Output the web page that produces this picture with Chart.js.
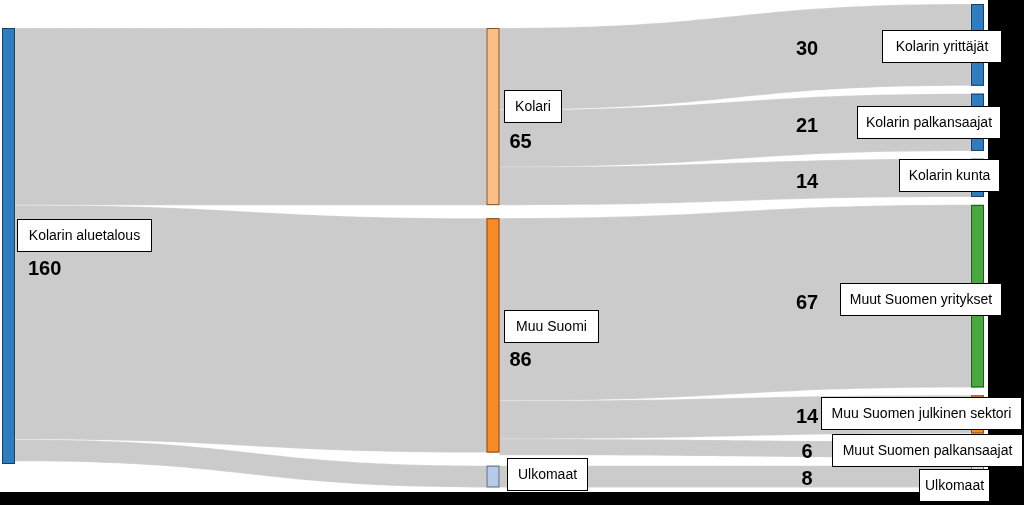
<!DOCTYPE html>
<html>
<head>
<meta charset="utf-8">
<script src="https://cdn.jsdelivr.net/npm/chart.js@4/dist/chart.umd.min.js"></script>
<style>
  html, body { margin: 0; padding: 0; background: #000; }
  #wrap { width: 1024px; height: 505px; }
</style>
</head>
<body>
<div id="wrap"><canvas id="sankey" width="1024" height="505"></canvas></div>
<script>
// nodes
var nodeNames = ['Kolarin aluetalous', 'Kolari', 'Muu Suomi', 'Ulkomaat',
    'Kolarin yrittäjät', 'Kolarin palkansaajat', 'Kolarin kunta',
    'Muut Suomen yritykset', 'Muu Suomen julkinen sektori', 'Muut Suomen palkansaajat', 'Ulkomaat'];
var nodeColumns = [0, 1, 1, 1, 2, 2, 2, 2, 2, 2, 2];
var nodeValues = [160, 65, 86, 8, 30, 21, 14, 67, 14, 6, 8];
var showValue = [true, true, true, false, true, true, true, true, true, true, true];

// links
var linkSources = [0, 0, 0, 1, 1, 1, 2, 2, 2, 3];
var linkTargets = [1, 2, 3, 4, 5, 6, 7, 8, 9, 10];
var linkValues = [65, 86, 8, 30, 21, 14, 67, 14, 6, 8];

// layout / styles (kept apart from the data)
var columnTop = [0, 0, -8.8];
var columnGap = [0, 4.8, 2.9];
var nodeWidth = 13;
var linkColor = '#cbcbcb';
var nodeFill = ['#2f7dc1', '#fbbf86', '#f98b26', '#b5cbe8', '#2f7dc1', '#2f7dc1', '#2f7dc1',
    '#47a93b', '#f98b26', '#d6d6d6', '#d6d6d6'];
var nodeStroke = ['#1c3f66', '#7a5530', '#7a4a1c', '#5d6b80', '#1c3f66', '#1c3f66', '#1c3f66',
    '#24561e', '#7a4a1c', '#777777', '#777777'];
// box: [left, right] relative to node edge, dy = box centre vs node centre, ndy = number centre vs node centre
var labelLayout = [
    { side: 'r', bl: 2, br: 137, dy: -10.5, nx: 13, ndy: 22 },
    { side: 'r', bl: 4, br: 62, dy: -10, nx: 10, ndy: 24.5 },
    { side: 'r', bl: 4, br: 99, dy: -8.7, nx: 10, ndy: 24.3 },
    { side: 'r', bl: 7, br: 88, dy: -1.7 },
    { side: 'l', bl: -89, br: 31, dy: 2, nx: -164, ndy: 3.5 },
    { side: 'l', bl: -114, br: 30, dy: 0, nx: -164, ndy: 3 },
    { side: 'l', bl: -72, br: 29, dy: -2, nx: -164, ndy: 4 },
    { side: 'l', bl: -131, br: 31, dy: 3, nx: -164, ndy: 6 },
    { side: 'l', bl: -150, br: 51, dy: -1, nx: -164, ndy: 2 },
    { side: 'l', bl: -139, br: 52, dy: 1, nx: -164, ndy: 1.5 },
    { side: 'l', bl: -52, br: 19, dy: 9, nx: -164, ndy: 1.5 }
];
var labelFont = '14px "Liberation Sans", Arial, sans-serif';
var valueFont = 'bold 20px "Liberation Sans", Arial, sans-serif';

// stack the nodes of each column
var nodeTop = [];
var colCursor = columnTop.slice();
nodeNames.forEach(function(name, i) {
    var c = nodeColumns[i];
    nodeTop[i] = colCursor[c];
    colCursor[c] += nodeValues[i] + columnGap[c];
});

var sankeyPlugin = {
    id: 'sankeyDraw',
    beforeDraw: function(chart) {
        var ctx = chart.ctx;
        ctx.save();
        ctx.fillStyle = '#000';
        ctx.fillRect(0, 0, chart.width, chart.height);
        ctx.fillStyle = '#fff';
        ctx.fillRect(0, 0, 988, 492);
        ctx.restore();
    },
    afterDatasetsDraw: function(chart) {
        var ctx = chart.ctx;
        var xs = chart.scales.x, ys = chart.scales.y;
        var px = function(c) { return xs.getPixelForValue(c); };
        var py = function(v) { return ys.getPixelForValue(v); };
        ctx.save();

        // links
        var outOff = nodeTop.slice(), inOff = nodeTop.slice();
        linkValues.forEach(function(v, k) {
            var s = linkSources[k], t = linkTargets[k];
            var x0 = px(nodeColumns[s]) + nodeWidth, x1 = px(nodeColumns[t]);
            var s0 = py(outOff[s]), s1 = py(outOff[s] + v);
            var t0 = py(inOff[t]), t1 = py(inOff[t] + v);
            outOff[s] += v; inOff[t] += v;
            var xm = (x0 + x1) / 2;
            ctx.beginPath();
            ctx.moveTo(x0, s0);
            ctx.bezierCurveTo(xm, s0, xm, t0, x1, t0);
            ctx.lineTo(x1, t1);
            ctx.bezierCurveTo(xm, t1, xm, s1, x0, s1);
            ctx.closePath();
            ctx.fillStyle = linkColor;
            ctx.fill();
            ctx.strokeStyle = 'rgba(255,255,255,0.35)';
            ctx.lineWidth = 0.6;
            ctx.stroke();
        });

        // nodes
        nodeNames.forEach(function(name, i) {
            var x = px(nodeColumns[i]);
            var y0 = py(nodeTop[i]), y1 = py(nodeTop[i] + nodeValues[i]);
            ctx.fillStyle = nodeFill[i];
            ctx.fillRect(x, y0, nodeWidth, y1 - y0);
            ctx.strokeStyle = nodeStroke[i];
            ctx.lineWidth = 1;
            ctx.strokeRect(x + 0.5, y0 + 0.5, nodeWidth - 1, y1 - y0 - 1);
        });

        // labels
        ctx.textBaseline = 'middle';
        nodeNames.forEach(function(name, i) {
            var L = labelLayout[i];
            var x = px(nodeColumns[i]);
            var edge = L.side === 'r' ? x + nodeWidth : x;
            var cy = (py(nodeTop[i]) + py(nodeTop[i] + nodeValues[i])) / 2;
            var bl = Math.round(edge + L.bl), br = Math.round(edge + L.br);
            var by = Math.round(cy + L.dy - 16.5);
            ctx.fillStyle = '#fff';
            ctx.fillRect(bl, by, br - bl, 33);
            ctx.strokeStyle = '#000';
            ctx.lineWidth = 1;
            ctx.strokeRect(bl + 0.5, by + 0.5, br - bl - 1, 32);
            ctx.fillStyle = '#000';
            ctx.font = labelFont;
            ctx.textAlign = 'center';
            ctx.fillText(name, (bl + br) / 2, by + 17);
            if (showValue[i]) {
                ctx.font = valueFont;
                ctx.textAlign = L.side === 'r' ? 'left' : 'center';
                ctx.fillText(String(nodeValues[i]), edge + L.nx, cy + L.ndy + 1);
            }
        });
        ctx.restore();
    }
};

var chart = new Chart(document.getElementById('sankey').getContext('2d'), {
    type: 'scatter',
    data: { datasets: [{ data: [], pointRadius: 0 }] },
    options: {
        responsive: false,
        devicePixelRatio: 1,
        animation: false,
        layout: { padding: { left: 2, right: 53, top: 28, bottom: 41 } },
        plugins: { legend: { display: false }, tooltip: { enabled: false } },
        scales: {
            x: { type: 'linear', min: 0, max: 2, display: false },
            y: { type: 'linear', min: 0, max: 160, reverse: true, display: false }
        }
    },
    plugins: [sankeyPlugin]
});
</script>
</body>
</html>
